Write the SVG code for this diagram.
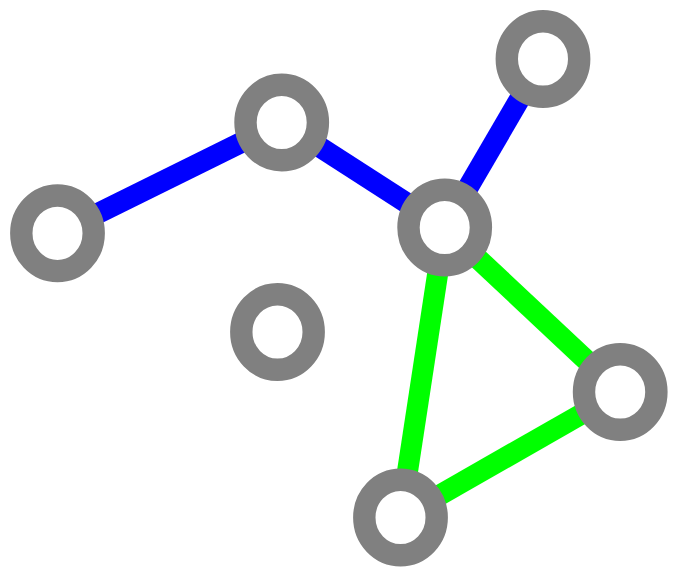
<svg xmlns="http://www.w3.org/2000/svg" width="673" height="568" viewBox="0 0 673 568">
<style>
.node{fill:#ffffff;stroke:#808080;stroke-width:22.4}
.blue{stroke:#0000ff;stroke-width:21;fill:none}
.green{stroke:#00ff00;stroke-width:21;fill:none}
</style>
<rect width="673" height="568" fill="#ffffff"/>
<g id="edges">
<line class="blue" x1="57.5" y1="233.3" x2="281.7" y2="122.5"/>
<line class="blue" x1="281.7" y1="122.5" x2="444.7" y2="227.5"/>
<line class="blue" x1="444.7" y1="227.5" x2="543" y2="59"/>
<line class="green" x1="444.7" y1="227.5" x2="620.2" y2="392"/>
<line class="green" x1="444.7" y1="227.5" x2="400.5" y2="517.5"/>
<line class="green" x1="620.2" y1="392" x2="400.5" y2="517.5"/>
</g>
<g id="n1"><ellipse class="node" cx="57.5" cy="233.3" rx="36.2" ry="37.8"/></g>
<g id="n2"><ellipse class="node" cx="281.7" cy="122.5" rx="36.2" ry="37.8"/></g>
<g id="n3"><ellipse class="node" cx="543" cy="59" rx="36.2" ry="37.8"/></g>
<g id="n4"><ellipse class="node" cx="444.7" cy="227.5" rx="36.2" ry="37.8"/></g>
<g id="n5"><ellipse class="node" cx="277.5" cy="332" rx="36.2" ry="37.8"/></g>
<g id="n6"><ellipse class="node" cx="620.2" cy="392" rx="36.2" ry="37.8"/></g>
<g id="n7"><ellipse class="node" cx="400.5" cy="517.5" rx="36.2" ry="37.8"/></g>
</svg>
